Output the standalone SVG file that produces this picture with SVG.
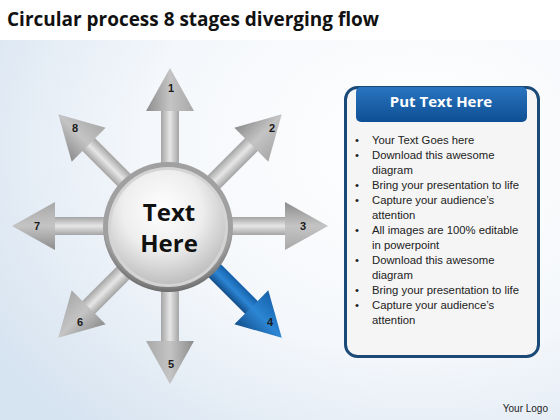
<svg xmlns="http://www.w3.org/2000/svg" width="560" height="420" viewBox="0 0 560 420">
<defs>
<style>
.num{font-family:"Liberation Sans",Arial,sans-serif;font-weight:bold;font-size:11px;fill:#1a1a1a;text-anchor:middle}
.bul{font-family:"Liberation Sans",Arial,sans-serif;font-size:11.3px;fill:#222}
.ctr{font-family:"Open Sans","Liberation Sans",sans-serif;font-weight:bold;font-size:24px;fill:#111;text-anchor:middle}
</style>
<radialGradient id="bg" cx="0.75" cy="0.35" r="0.9">
<stop offset="0" stop-color="#ffffff"/>
<stop offset="0.55" stop-color="#f4f7fb"/>
<stop offset="1" stop-color="#d6e3f0"/>
</radialGradient>
<linearGradient id="shaftG" x1="0" y1="0" x2="1" y2="0">
<stop offset="0" stop-color="#a4a4a4"/>
<stop offset="0.5" stop-color="#e6e6e6"/>
<stop offset="1" stop-color="#a4a4a4"/>
</linearGradient>
<linearGradient id="headG" x1="0" y1="0" x2="1" y2="0">
<stop offset="0" stop-color="#8c8c8c"/>
<stop offset="0.5" stop-color="#c4c4c4"/>
<stop offset="1" stop-color="#a8a8a8"/>
</linearGradient>
<linearGradient id="blueG" x1="0" y1="0" x2="1" y2="0">
<stop offset="0" stop-color="#1560a8"/>
<stop offset="0.5" stop-color="#2c86d4"/>
<stop offset="1" stop-color="#134f8c"/>
</linearGradient>
<radialGradient id="ringG" cx="0.5" cy="0.4" r="0.6">
<stop offset="0.85" stop-color="#a0a0a0"/>
<stop offset="1" stop-color="#6a6a6a"/>
</radialGradient>
<radialGradient id="coreG" cx="0.45" cy="0.35" r="0.7">
<stop offset="0" stop-color="#ffffff"/>
<stop offset="0.5" stop-color="#eeeeee"/>
<stop offset="1" stop-color="#b8b8b8"/>
</radialGradient>
<linearGradient id="hdrG" x1="0" y1="0" x2="0" y2="1">
<stop offset="0" stop-color="#2a74c0"/>
<stop offset="1" stop-color="#0d4f94"/>
</linearGradient>
<g id="arrowShape">
<polygon points="-9,-50 -9,-116 9,-116 9,-50" fill="url(#shaftG)"/>
<polygon points="-24,-115 0,-158 24,-115" fill="url(#headG)"/>
</g>
</defs>
<rect width="560" height="420" fill="url(#bg)"/>
<rect width="560" height="40" fill="#ffffff"/>
<text x="7" y="26" font-family="'Open Sans','Liberation Sans',sans-serif" font-weight="bold" font-size="20" fill="#111" textLength="372" lengthAdjust="spacingAndGlyphs">Circular process 8 stages diverging flow</text>

<g id="connectors">
<use href="#arrowShape" transform="translate(170,226) rotate(0)"/>
<use href="#arrowShape" transform="translate(170,226) rotate(45)"/>
<use href="#arrowShape" transform="translate(170,226) rotate(90)"/>
<g transform="translate(170,226) rotate(135)">
<polygon points="-9,-50 -9,-116 9,-116 9,-50" fill="url(#blueG)"/>
<polygon points="-24,-115 0,-158 24,-115" fill="url(#blueG)"/>
</g>
<use href="#arrowShape" transform="translate(170,226) rotate(180)"/>
<use href="#arrowShape" transform="translate(170,226) rotate(225)"/>
<use href="#arrowShape" transform="translate(170,226) rotate(270)"/>
<use href="#arrowShape" transform="translate(170,226) rotate(315)"/>
</g>

<g id="labels">
<text class="num" x="171" y="92">1</text>
<text class="num" x="272" y="132">2</text>
<text class="num" x="303" y="230">3</text>
<text class="num" x="270" y="326">4</text>
<text class="num" x="171" y="368">5</text>
<text class="num" x="80" y="326">6</text>
<text class="num" x="37" y="230">7</text>
<text class="num" x="75" y="132">8</text>
</g>

<g id="center">
<circle cx="168" cy="227" r="65" fill="url(#ringG)"/>
<circle cx="168" cy="227" r="60" fill="#d4d4d4"/>
<circle cx="168" cy="227" r="57" fill="url(#coreG)"/>
<text class="ctr" x="169" y="221">Text</text>
<text class="ctr" x="169" y="252">Here</text>
</g>

<g id="panel">
<rect x="345.5" y="87.5" width="193" height="269" rx="12" fill="#f5f5f5" stroke="#1b4a78" stroke-width="3"/>
<rect x="356" y="87" width="171" height="35" rx="5" fill="url(#hdrG)"/>
<text x="441" y="107" text-anchor="middle" font-family="'Open Sans','Liberation Sans',sans-serif" font-weight="bold" font-size="15" fill="#ffffff">Put Text Here</text>
<g class="bul">
<text x="355" y="144">•</text><text x="372" y="144">Your Text Goes here</text>
<text x="355" y="159">•</text><text x="372" y="159">Download this awesome</text>
<text x="372" y="174">diagram</text>
<text x="355" y="189">•</text><text x="372" y="189">Bring your presentation to life</text>
<text x="355" y="204">•</text><text x="372" y="204">Capture your audience’s</text>
<text x="372" y="219">attention</text>
<text x="355" y="234">•</text><text x="372" y="234">All images are 100% editable</text>
<text x="372" y="249">in powerpoint</text>
<text x="355" y="264">•</text><text x="372" y="264">Download this awesome</text>
<text x="372" y="279">diagram</text>
<text x="355" y="294">•</text><text x="372" y="294">Bring your presentation to life</text>
<text x="355" y="309">•</text><text x="372" y="309">Capture your audience’s</text>
<text x="372" y="324">attention</text>
</g>
</g>
<text x="548" y="412" text-anchor="end" font-family="'Liberation Sans',Arial,sans-serif" font-size="10" fill="#222">Your Logo</text>
</svg>
